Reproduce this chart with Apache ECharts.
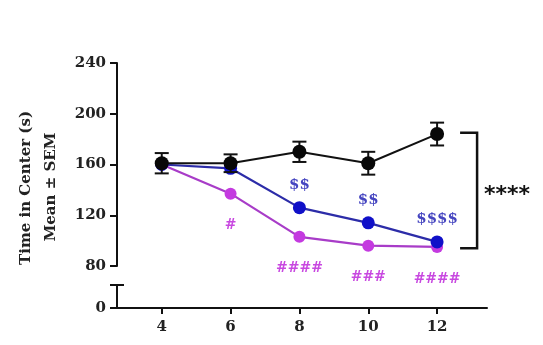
<!DOCTYPE html>
<html><head><meta charset="utf-8">
<script src="https://cdn.jsdelivr.net/npm/echarts@6/dist/echarts.min.js"></script>
<style>html,body{margin:0;padding:0;background:#fff}#c{width:543px;height:345px}</style>
</head><body><div id="c"></div>
<script>
const weeks = [4, 6, 8, 10, 12];
const ctrlMean = [161, 161, 170, 161, 184];
const ctrlSem = [8, 7, 8, 9, 9];
const blueMean = [160, 157, 126, 114, 99];
const magMean = [160, 137, 103, 96, 95];
const blueLabels = ['', '', '$$', '$$', '$$$$'];
const magLabels = ['', '#', '####', '###', '####'];
const bracketRange = [12, 185, 94];
const bracketText = '****';
const yTicks = [80, 120, 160, 200, 240];

const FONT = '"DejaVu Serif", "Liberation Serif", serif';
const chart = echarts.init(document.getElementById('c'));
const mk = (xs, ys) => xs.map((x, i) => [x, ys[i]]);

const option = {
  animation: false,
  grid: [
    {left: 117, top: 63, width: 370, height: 203},
    {left: 117, top: 285, width: 370, height: 23}
  ],
  xAxis: [
    {gridIndex: 0, type: 'value', min: 2.7, max: 13.45, show: false},
    {gridIndex: 1, type: 'value', min: 2.7, max: 13.45, interval: 2,
     axisLine: {lineStyle: {color: '#111', width: 2}},
     axisTick: {show: true, length: 6, lineStyle: {color: '#111', width: 2},
       customValues: weeks},
     axisLabel: {customValues: weeks, color: '#222', fontFamily: FONT, fontWeight: 'bold', fontSize: 15, margin: 12},
     splitLine: {show: false}}
  ],
  yAxis: [
    {gridIndex: 0, type: 'value', min: yTicks[0], max: yTicks[yTicks.length - 1], interval: 40,
     axisLine: {show: true, lineStyle: {color: '#111', width: 2}},
     axisTick: {show: true, length: 7, lineStyle: {color: '#111', width: 2}},
     axisLabel: {color: '#222', fontFamily: FONT, fontWeight: 'bold', fontSize: 15, margin: 11},
     splitLine: {show: false}},
    {gridIndex: 1, type: 'value', min: 0, max: 18, interval: 18,
     axisLine: {show: true, lineStyle: {color: '#111', width: 2}},
     axisTick: {show: true, length: 7, lineStyle: {color: '#111', width: 2}},
     axisLabel: {color: '#222', fontFamily: FONT, fontWeight: 'bold', fontSize: 15, margin: 11,
       formatter: v => v === 0 ? '0' : ''},
     splitLine: {show: false}}
  ],
  graphic: [
    {type: 'text', rotation: Math.PI / 2, x: 26, y: 188, style: {
      text: 'Time in Center (s)', fill: '#222', font: 'bold 15px ' + FONT,
      textAlign: 'center', textVerticalAlign: 'middle'}},
    {type: 'text', rotation: Math.PI / 2, x: 51, y: 187, style: {
      text: 'Mean ± SEM', fill: '#222', font: 'bold 15px ' + FONT,
      textAlign: 'center', textVerticalAlign: 'middle'}}
  ],
  series: [
    {type: 'line', xAxisIndex: 0, yAxisIndex: 0, data: mk(weeks, magMean), z: 2,
     symbol: 'circle', symbolSize: 12,
     itemStyle: {color: '#c43ae0'}, lineStyle: {color: '#a83cc8', width: 2.2},
     label: {show: true, position: 'bottom', distance: 19, formatter: p => magLabels[p.dataIndex],
       color: '#c848e0', fontFamily: FONT, fontWeight: 'bold', fontSize: 14}},
    {type: 'line', xAxisIndex: 0, yAxisIndex: 0, data: mk(weeks, blueMean), z: 3,
     symbol: 'circle', symbolSize: 13,
     itemStyle: {color: '#1010c8'}, lineStyle: {color: '#2c2ca8', width: 2.2},
     label: {show: true, position: 'top', distance: 9, formatter: p => blueLabels[p.dataIndex],
       color: '#4545c0', fontFamily: FONT, fontWeight: 'bold', fontSize: 15}},
    {type: 'custom', xAxisIndex: 0, yAxisIndex: 0, z: 4,
     data: weeks.map((x, i) => [x, ctrlMean[i] - ctrlSem[i], ctrlMean[i] + ctrlSem[i]]),
     renderItem: (params, api) => {
       const lo = api.coord([api.value(0), api.value(1)]);
       const hi = api.coord([api.value(0), api.value(2)]);
       const s = {stroke: '#111', lineWidth: 2};
       return {type: 'group', children: [
         {type: 'line', shape: {x1: lo[0], y1: lo[1], x2: hi[0], y2: hi[1]}, style: s},
         {type: 'line', shape: {x1: lo[0] - 7, y1: lo[1], x2: lo[0] + 7, y2: lo[1]}, style: s},
         {type: 'line', shape: {x1: hi[0] - 7, y1: hi[1], x2: hi[0] + 7, y2: hi[1]}, style: s}
       ]};
     }},
    {type: 'line', xAxisIndex: 0, yAxisIndex: 0, data: mk(weeks, ctrlMean), z: 5,
     symbol: 'circle', symbolSize: 14,
     itemStyle: {color: '#080808'}, lineStyle: {color: '#111', width: 2}},
    {type: 'custom', xAxisIndex: 0, yAxisIndex: 0, z: 5, data: [bracketRange],
     renderItem: (params, api) => {
       const top = api.coord([api.value(0), api.value(1)]);
       const bot = api.coord([api.value(0), api.value(2)]);
       const x1 = top[0] + 23, x2 = top[0] + 40;
       return {type: 'group', children: [
         {type: 'polyline', shape: {points: [[x1, top[1]], [x2, top[1]], [x2, bot[1]], [x1, bot[1]]]},
          style: {stroke: '#111', lineWidth: 2.5, fill: null}},
         {type: 'text', x: x2 + 7, y: (top[1] + bot[1]) / 2 + 5,
          style: {text: bracketText, fill: '#111', font: 'bold 22px "DejaVu Sans", sans-serif', textAlign: 'left', textVerticalAlign: 'middle'}}
       ]};
     }},
    {type: 'custom', xAxisIndex: 1, yAxisIndex: 1, data: [[2.7, 18]], z: 5,
     renderItem: (params, api) => {
       const p = api.coord([api.value(0), api.value(1)]);
       return {type: 'line', shape: {x1: p[0] - 7, y1: p[1], x2: p[0] + 7, y2: p[1]},
         style: {stroke: '#111', lineWidth: 2}};
     }}
  ]
};
chart.setOption(option);
</script></body></html>
